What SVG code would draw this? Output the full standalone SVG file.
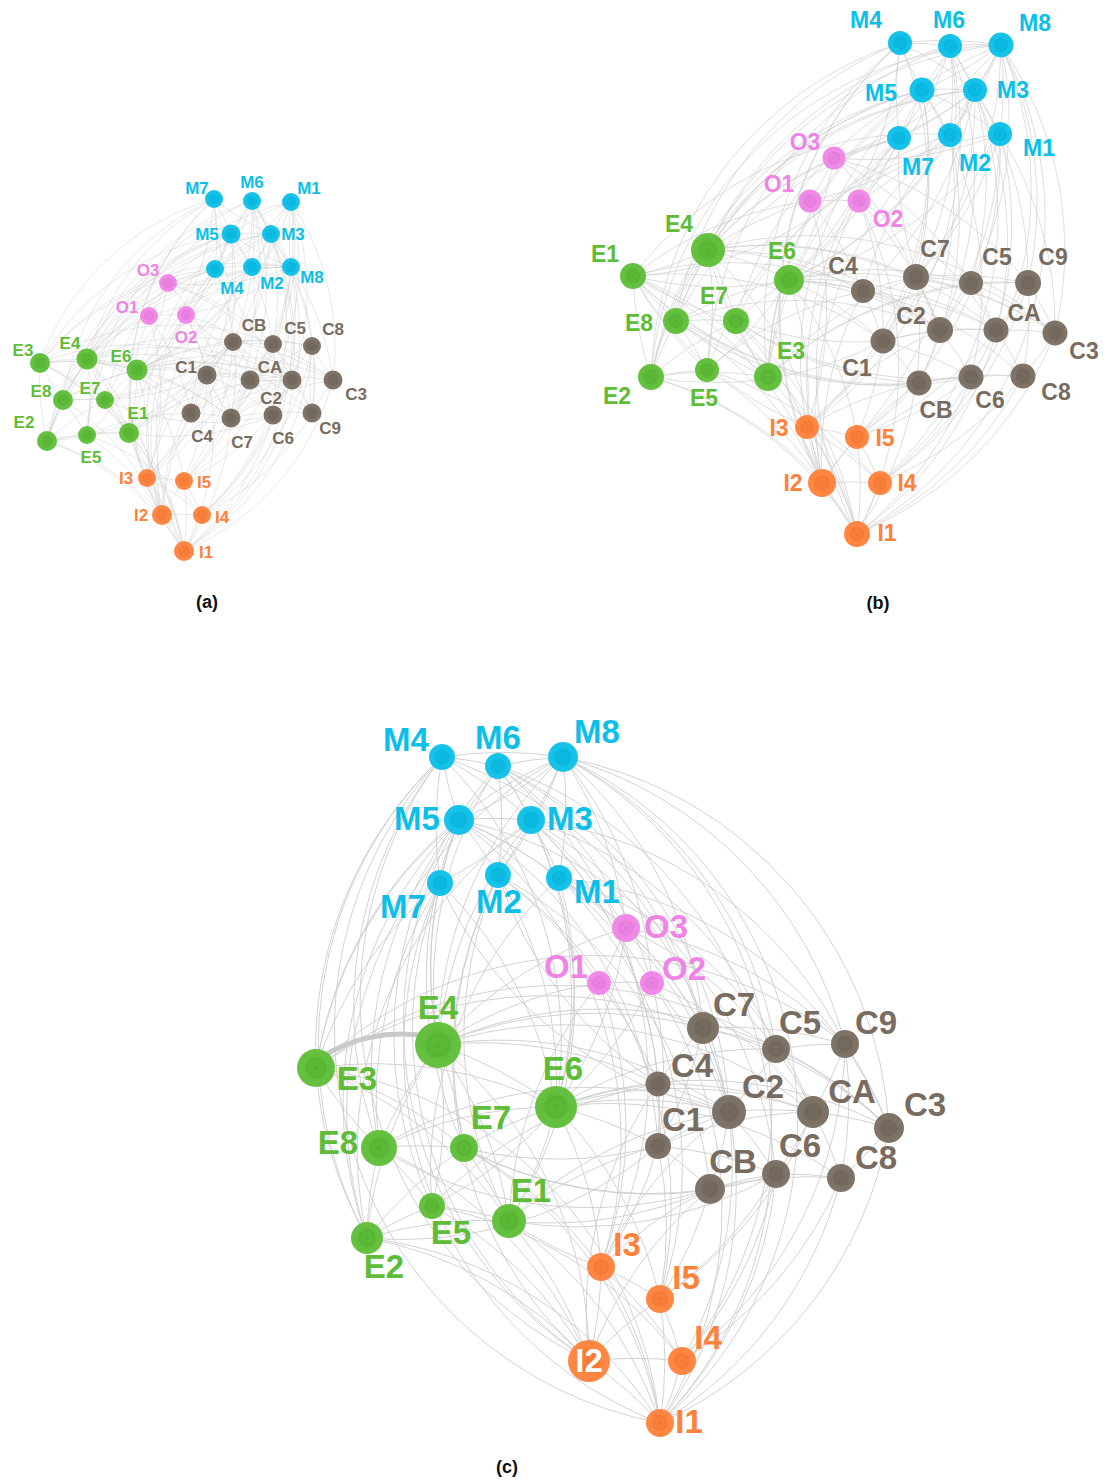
<svg xmlns="http://www.w3.org/2000/svg" width="1115" height="1481" viewBox="0 0 1115 1481">
<defs>
<radialGradient id="sh"><stop offset="0" stop-color="#000" stop-opacity=".08"/><stop offset=".2" stop-color="#000" stop-opacity=".02"/><stop offset=".5" stop-color="#000" stop-opacity=".05"/><stop offset=".62" stop-color="#fff" stop-opacity=".03"/><stop offset="1" stop-color="#fff" stop-opacity=".06"/></radialGradient>
<style>
.m{fill:#0bbfe8}.o{fill:#ef84e6}.e{fill:#5dbd36}.c{fill:#786c60}.i{fill:#ff813a}
.s{fill:url(#sh)}
text{font-family:"Liberation Sans",Arial,sans-serif;font-weight:bold;text-anchor:middle}
.tm{fill:#0bbfe8}.to{fill:#ef84e6}.te{fill:#5dbd36}.tc{fill:#786c60}.ti{fill:#ff813a}
.fa text{font-size:17px}.fb text{font-size:23px}.fc text{font-size:33px}
.cap{font-size:18px;fill:#111}
#connectors path{fill:none;stroke:#cdcdcd;stroke-width:1}
#edges-a path{stroke-opacity:.45}
#edges-b path{stroke-opacity:.65}
#edges-c path{stroke-opacity:.9}
#connectors .thick{stroke:#c8c8c8;stroke-opacity:1;stroke-width:5}
</style>
</defs>
<rect width="1115" height="1481" fill="#fff"/>
<g id="connectors">
<g id="edges-a">
<path d="M215 269A260 260 0 0 1 291 267"/><path d="M215 269A260 260 0 0 1 252 201"/><path d="M252 201A260 260 0 0 1 291 267"/><path d="M231 234A260 260 0 0 1 215 269"/><path d="M215 269A260 260 0 0 1 271 234"/><path d="M252 201A260 260 0 0 1 231 234"/><path d="M252 201A260 260 0 0 1 271 234"/><path d="M291 267A260 260 0 0 1 231 234"/><path d="M291 267A260 260 0 0 1 271 234"/><path d="M231 234A260 260 0 0 1 271 234"/><path d="M214 199A260 260 0 0 1 231 234"/><path d="M231 234A260 260 0 0 1 252 267"/><path d="M271 234A260 260 0 0 1 252 267"/><path d="M271 234A260 260 0 0 1 291 202"/><path d="M291 267A260 260 0 0 1 291 202"/><path d="M252 201A260 260 0 0 1 252 267"/><path d="M214 199A260 260 0 0 1 215 269"/><path d="M291 267A260 260 0 0 1 252 267"/><path d="M231 234A260 260 0 0 1 291 202"/><path d="M271 234A260 260 0 0 1 214 199"/>
<path d="M291 202A260 260 0 0 1 168 283"/><path d="M271 234A260 260 0 0 1 168 283"/><path d="M291 267A260 260 0 0 1 168 283"/><path d="M252 267A260 260 0 0 1 149 316"/><path d="M231 234A260 260 0 0 1 186 315"/><path d="M252 201A260 260 0 0 1 186 315"/><path d="M291 267A260 260 0 0 1 186 315"/>
<path d="M40 363A260 260 0 0 1 215 269"/><path d="M47 441A260 260 0 0 1 215 269"/><path d="M63 400A260 260 0 0 1 215 269"/><path d="M40 363A260 260 0 0 1 231 234"/><path d="M87 359A260 260 0 0 1 231 234"/><path d="M63 400A260 260 0 0 1 231 234"/><path d="M47 441A260 260 0 0 1 231 234"/><path d="M105 400A260 260 0 0 1 231 234"/><path d="M87 359A260 260 0 0 1 252 201"/><path d="M252 201A260 260 0 0 1 129 433"/><path d="M87 435A260 260 0 0 1 252 201"/><path d="M87 359A260 260 0 0 1 214 199"/><path d="M40 363A260 260 0 0 1 214 199"/><path d="M63 400A260 260 0 0 1 214 199"/><path d="M214 199A260 260 0 0 1 137 370"/><path d="M252 267A260 260 0 0 1 137 370"/><path d="M105 400A260 260 0 0 1 252 267"/><path d="M129 433A260 260 0 0 1 252 267"/><path d="M87 359A260 260 0 0 1 271 234"/><path d="M271 234A260 260 0 0 1 137 370"/><path d="M87 359A260 260 0 0 1 291 267"/><path d="M40 363A260 260 0 0 1 291 267"/><path d="M47 441A260 260 0 0 1 291 267"/><path d="M291 202A260 260 0 0 1 137 370"/><path d="M87 435A260 260 0 0 1 291 202"/><path d="M215 269A260 260 0 0 1 137 370"/><path d="M47 441A260 260 0 0 1 271 234"/>
<path d="M291 267A260 260 0 0 1 312 413"/><path d="M291 267A260 260 0 0 1 333 380"/><path d="M291 267A260 260 0 0 1 273 344"/><path d="M291 267A260 260 0 0 1 231 418"/><path d="M291 202A260 260 0 0 1 231 418"/><path d="M291 202A260 260 0 0 1 292 380"/><path d="M291 202A260 260 0 0 1 250 380"/><path d="M271 234A260 260 0 0 1 191 413"/><path d="M271 234A260 260 0 0 1 207 375"/><path d="M271 234A260 260 0 0 1 273 344"/><path d="M252 201A260 260 0 0 1 231 418"/><path d="M252 201A260 260 0 0 1 292 380"/><path d="M191 413A260 260 0 0 1 252 267"/><path d="M252 267A260 260 0 0 1 233 342"/><path d="M231 234A260 260 0 0 1 207 375"/><path d="M231 234A260 260 0 0 1 273 415"/><path d="M215 269A260 260 0 0 1 231 418"/><path d="M292 380A260 260 0 0 1 214 199"/><path d="M291 202A260 260 0 0 1 333 380"/><path d="M271 234A260 260 0 0 1 312 413"/>
<path d="M162 515A260 260 0 0 1 215 269"/><path d="M231 234A260 260 0 0 1 147 478"/><path d="M162 515A260 260 0 0 1 231 234"/><path d="M162 515A260 260 0 0 1 214 199"/><path d="M252 201A260 260 0 0 1 184 551"/><path d="M252 201A260 260 0 0 1 147 478"/><path d="M252 267A260 260 0 0 1 184 481"/><path d="M162 515A260 260 0 0 1 252 267"/><path d="M271 234A260 260 0 0 1 202 515"/><path d="M291 267A260 260 0 0 1 184 551"/><path d="M291 202A260 260 0 0 1 184 481"/><path d="M184 551A260 260 0 0 1 214 199"/><path d="M184 551A260 260 0 0 1 215 269"/><path d="M291 267A260 260 0 0 1 202 515"/>
<path d="M168 283A260 260 0 0 1 231 418"/><path d="M168 283A260 260 0 0 1 273 344"/><path d="M87 359A260 260 0 0 1 168 283"/><path d="M168 283A260 260 0 0 1 137 370"/><path d="M87 359A260 260 0 0 1 149 316"/><path d="M149 316A260 260 0 0 1 191 413"/><path d="M149 316A260 260 0 0 1 147 478"/><path d="M186 315A260 260 0 0 1 292 380"/><path d="M186 315A260 260 0 0 1 207 375"/><path d="M186 315A260 260 0 0 1 250 380"/><path d="M149 316A260 260 0 0 1 186 315"/><path d="M168 283A260 260 0 0 1 149 316"/><path d="M186 315A260 260 0 0 1 184 551"/><path d="M168 283A260 260 0 0 1 312 413"/><path d="M129 433A260 260 0 0 1 149 316"/><path d="M186 315A260 260 0 0 1 137 370"/>
<path d="M40 363A260 260 0 0 1 87 359"/><path d="M63 400A260 260 0 0 1 40 363"/><path d="M47 441A260 260 0 0 1 40 363"/><path d="M87 359A260 260 0 0 1 137 370"/><path d="M87 359A260 260 0 0 1 105 400"/><path d="M63 400A260 260 0 0 1 87 359"/><path d="M87 359A260 260 0 0 1 129 433"/><path d="M87 359A260 260 0 0 1 87 435"/><path d="M47 441A260 260 0 0 1 63 400"/><path d="M63 400A260 260 0 0 1 105 400"/><path d="M63 400A260 260 0 0 1 87 435"/><path d="M105 400A260 260 0 0 1 129 433"/><path d="M105 400A260 260 0 0 1 137 370"/><path d="M137 370A260 260 0 0 1 129 433"/><path d="M87 435A260 260 0 0 1 129 433"/><path d="M47 441A260 260 0 0 1 87 435"/><path d="M47 441A260 260 0 0 1 129 433"/><path d="M40 363A260 260 0 0 1 137 370"/><path d="M40 363A260 260 0 0 1 105 400"/><path d="M47 441A260 260 0 0 1 105 400"/><path d="M137 370A260 260 0 0 1 87 435"/><path d="M47 441A260 260 0 0 1 87 359"/><path d="M40 363A260 260 0 0 1 129 433"/><path d="M63 400A260 260 0 0 1 137 370"/>
<path d="M87 359A260 260 0 0 1 231 418"/><path d="M87 359A260 260 0 0 1 292 380"/><path d="M87 359A260 260 0 0 1 191 413"/><path d="M137 370A260 260 0 0 1 191 413"/><path d="M137 370A260 260 0 0 1 207 375"/><path d="M137 370A260 260 0 0 1 292 380"/><path d="M137 370A260 260 0 0 1 250 380"/><path d="M137 370A260 260 0 0 1 273 344"/><path d="M40 363A260 260 0 0 1 231 418"/><path d="M40 363A260 260 0 0 1 312 413"/><path d="M207 375A260 260 0 0 1 105 400"/><path d="M233 342A260 260 0 0 1 105 400"/><path d="M129 433A260 260 0 0 1 207 375"/><path d="M233 342A260 260 0 0 1 129 433"/><path d="M273 415A260 260 0 0 1 129 433"/><path d="M87 435A260 260 0 0 1 191 413"/><path d="M63 400A260 260 0 0 1 292 380"/><path d="M207 375A260 260 0 0 1 47 441"/><path d="M87 359A260 260 0 0 1 250 380"/><path d="M137 370A260 260 0 0 1 312 346"/><path d="M273 415A260 260 0 0 1 105 400"/><path d="M129 433A260 260 0 0 1 292 380"/><path d="M87 359A260 260 0 0 1 333 380"/><path d="M40 363A260 260 0 0 1 273 344"/><path d="M233 342A260 260 0 0 1 63 400"/><path d="M137 370A260 260 0 0 1 333 380"/>
<path d="M147 478A260 260 0 0 1 129 433"/><path d="M129 433A260 260 0 0 1 162 515"/><path d="M87 435A260 260 0 0 1 162 515"/><path d="M47 441A260 260 0 0 1 162 515"/><path d="M47 441A260 260 0 0 1 184 551"/><path d="M63 400A260 260 0 0 1 162 515"/><path d="M105 400A260 260 0 0 1 147 478"/><path d="M137 370A260 260 0 0 1 147 478"/><path d="M137 370A260 260 0 0 1 184 481"/><path d="M87 359A260 260 0 0 1 162 515"/><path d="M40 363A260 260 0 0 1 184 551"/><path d="M129 433A260 260 0 0 1 184 551"/><path d="M87 435A260 260 0 0 1 202 515"/><path d="M105 400A260 260 0 0 1 184 551"/>
<path d="M231 418A260 260 0 0 1 273 344"/><path d="M231 418A260 260 0 0 1 312 413"/><path d="M273 344A260 260 0 0 1 312 413"/><path d="M191 413A260 260 0 0 1 231 418"/><path d="M231 418A260 260 0 0 1 292 380"/><path d="M191 413A260 260 0 0 1 292 380"/><path d="M191 413A260 260 0 0 1 207 375"/><path d="M292 380A260 260 0 0 1 250 380"/><path d="M207 375A260 260 0 0 1 292 380"/><path d="M250 380A260 260 0 0 1 333 380"/><path d="M312 413A260 260 0 0 1 333 380"/><path d="M312 413A260 260 0 0 1 250 380"/><path d="M273 344A260 260 0 0 1 250 380"/><path d="M273 344A260 260 0 0 1 292 380"/><path d="M207 375A260 260 0 0 1 233 342"/><path d="M207 375A260 260 0 0 1 273 415"/><path d="M233 342A260 260 0 0 1 273 415"/><path d="M273 415A260 260 0 0 1 312 346"/><path d="M333 380A260 260 0 0 1 312 346"/><path d="M250 380A260 260 0 0 1 273 415"/><path d="M250 380A260 260 0 0 1 312 346"/><path d="M292 380A260 260 0 0 1 273 415"/><path d="M292 380A260 260 0 0 1 233 342"/><path d="M191 413A260 260 0 0 1 250 380"/><path d="M231 418A260 260 0 0 1 333 380"/><path d="M273 344A260 260 0 0 1 333 380"/><path d="M207 375A260 260 0 0 1 250 380"/><path d="M233 342A260 260 0 0 1 312 346"/><path d="M312 413A260 260 0 0 1 312 346"/><path d="M231 418A260 260 0 0 1 207 375"/>
<path d="M207 375A260 260 0 0 1 147 478"/><path d="M207 375A260 260 0 0 1 184 481"/><path d="M233 342A260 260 0 0 1 184 481"/><path d="M147 478A260 260 0 0 1 233 342"/><path d="M273 415A260 260 0 0 1 184 481"/><path d="M273 415A260 260 0 0 1 202 515"/><path d="M312 346A260 260 0 0 1 202 515"/><path d="M312 346A260 260 0 0 1 184 551"/><path d="M333 380A260 260 0 0 1 184 551"/><path d="M250 380A260 260 0 0 1 184 481"/><path d="M147 478A260 260 0 0 1 292 380"/><path d="M162 515A260 260 0 0 1 191 413"/><path d="M162 515A260 260 0 0 1 233 342"/><path d="M312 413A260 260 0 0 1 202 515"/><path d="M231 418A260 260 0 0 1 184 551"/><path d="M273 415A260 260 0 0 1 184 551"/>
<path d="M147 478A260 260 0 0 1 162 515"/><path d="M147 478A260 260 0 0 1 184 481"/><path d="M147 478A260 260 0 0 1 184 551"/><path d="M184 481A260 260 0 0 1 202 515"/><path d="M184 481A260 260 0 0 1 184 551"/><path d="M162 515A260 260 0 0 1 202 515"/><path d="M162 515A260 260 0 0 1 184 551"/><path d="M202 515A260 260 0 0 1 184 551"/><path d="M147 478A260 260 0 0 1 202 515"/><path d="M162 515A260 260 0 0 1 184 481"/>
</g>
<g id="edges-b">
<path d="M900 43A360 360 0 0 1 1001 45"/><path d="M900 43A360 360 0 0 1 950 46"/><path d="M950 46A360 360 0 0 1 1001 45"/><path d="M922 90A360 360 0 0 1 900 43"/><path d="M900 43A360 360 0 0 1 975 90"/><path d="M950 46A360 360 0 0 1 922 90"/><path d="M950 46A360 360 0 0 1 975 90"/><path d="M1001 45A360 360 0 0 1 922 90"/><path d="M1001 45A360 360 0 0 1 975 90"/><path d="M922 90A360 360 0 0 1 975 90"/><path d="M899 138A360 360 0 0 1 922 90"/><path d="M922 90A360 360 0 0 1 950 135"/><path d="M975 90A360 360 0 0 1 950 135"/><path d="M975 90A360 360 0 0 1 1000 134"/><path d="M1001 45A360 360 0 0 1 1000 134"/><path d="M950 46A360 360 0 0 1 950 135"/><path d="M899 138A360 360 0 0 1 900 43"/><path d="M1001 45A360 360 0 0 1 950 135"/><path d="M922 90A360 360 0 0 1 1000 134"/><path d="M975 90A360 360 0 0 1 899 138"/>
<path d="M1000 134A360 360 0 0 1 834 158"/><path d="M975 90A360 360 0 0 1 834 158"/><path d="M1001 45A360 360 0 0 1 834 158"/><path d="M950 135A360 360 0 0 1 810 201"/><path d="M922 90A360 360 0 0 1 859 201"/><path d="M950 46A360 360 0 0 1 859 201"/><path d="M1001 45A360 360 0 0 1 859 201"/>
<path d="M768 377A360 360 0 0 1 900 43"/><path d="M651 377A360 360 0 0 1 900 43"/><path d="M676 321A360 360 0 0 1 900 43"/><path d="M768 377A360 360 0 0 1 922 90"/><path d="M708 250A360 360 0 0 1 922 90"/><path d="M676 321A360 360 0 0 1 922 90"/><path d="M651 377A360 360 0 0 1 922 90"/><path d="M736 321A360 360 0 0 1 922 90"/><path d="M708 250A360 360 0 0 1 950 46"/><path d="M950 46A360 360 0 0 1 633 276"/><path d="M707 370A360 360 0 0 1 950 46"/><path d="M708 250A360 360 0 0 1 899 138"/><path d="M768 377A360 360 0 0 1 899 138"/><path d="M676 321A360 360 0 0 1 899 138"/><path d="M899 138A360 360 0 0 1 789 280"/><path d="M950 135A360 360 0 0 1 789 280"/><path d="M736 321A360 360 0 0 1 950 135"/><path d="M633 276A360 360 0 0 1 950 135"/><path d="M708 250A360 360 0 0 1 975 90"/><path d="M975 90A360 360 0 0 1 789 280"/><path d="M708 250A360 360 0 0 1 1001 45"/><path d="M768 377A360 360 0 0 1 1001 45"/><path d="M651 377A360 360 0 0 1 1001 45"/><path d="M1000 134A360 360 0 0 1 789 280"/><path d="M707 370A360 360 0 0 1 1000 134"/><path d="M900 43A360 360 0 0 1 789 280"/><path d="M651 377A360 360 0 0 1 975 90"/>
<path d="M1001 45A360 360 0 0 1 1028 283"/><path d="M1001 45A360 360 0 0 1 1055 333"/><path d="M1001 45A360 360 0 0 1 971 283"/><path d="M1001 45A360 360 0 0 1 916 277"/><path d="M1000 134A360 360 0 0 1 916 277"/><path d="M1000 134A360 360 0 0 1 940 330"/><path d="M1000 134A360 360 0 0 1 996 330"/><path d="M975 90A360 360 0 0 1 863 291"/><path d="M975 90A360 360 0 0 1 883 341"/><path d="M975 90A360 360 0 0 1 971 283"/><path d="M950 46A360 360 0 0 1 916 277"/><path d="M950 46A360 360 0 0 1 940 330"/><path d="M863 291A360 360 0 0 1 950 135"/><path d="M950 135A360 360 0 0 1 919 383"/><path d="M922 90A360 360 0 0 1 883 341"/><path d="M922 90A360 360 0 0 1 971 377"/><path d="M900 43A360 360 0 0 1 916 277"/><path d="M940 330A360 360 0 0 1 899 138"/><path d="M1000 134A360 360 0 0 1 1055 333"/><path d="M975 90A360 360 0 0 1 1028 283"/>
<path d="M822 483A360 360 0 0 1 900 43"/><path d="M922 90A360 360 0 0 1 807 427"/><path d="M822 483A360 360 0 0 1 922 90"/><path d="M822 483A360 360 0 0 1 899 138"/><path d="M950 46A360 360 0 0 1 857 534"/><path d="M950 46A360 360 0 0 1 807 427"/><path d="M950 135A360 360 0 0 1 857 437"/><path d="M822 483A360 360 0 0 1 950 135"/><path d="M975 90A360 360 0 0 1 880 483"/><path d="M1001 45A360 360 0 0 1 857 534"/><path d="M1000 134A360 360 0 0 1 857 437"/><path d="M857 534A360 360 0 0 1 899 138"/><path d="M857 534A360 360 0 0 1 900 43"/><path d="M1001 45A360 360 0 0 1 880 483"/>
<path d="M834 158A360 360 0 0 1 916 277"/><path d="M834 158A360 360 0 0 1 971 283"/><path d="M708 250A360 360 0 0 1 834 158"/><path d="M834 158A360 360 0 0 1 789 280"/><path d="M708 250A360 360 0 0 1 810 201"/><path d="M810 201A360 360 0 0 1 863 291"/><path d="M810 201A360 360 0 0 1 807 427"/><path d="M859 201A360 360 0 0 1 940 330"/><path d="M859 201A360 360 0 0 1 883 341"/><path d="M859 201A360 360 0 0 1 996 330"/><path d="M810 201A360 360 0 0 1 859 201"/><path d="M834 158A360 360 0 0 1 810 201"/><path d="M859 201A360 360 0 0 1 857 534"/><path d="M834 158A360 360 0 0 1 1028 283"/><path d="M633 276A360 360 0 0 1 810 201"/><path d="M859 201A360 360 0 0 1 789 280"/>
<path d="M768 377A360 360 0 0 1 708 250"/><path d="M676 321A360 360 0 0 1 768 377"/><path d="M651 377A360 360 0 0 1 768 377"/><path d="M708 250A360 360 0 0 1 789 280"/><path d="M708 250A360 360 0 0 1 736 321"/><path d="M676 321A360 360 0 0 1 708 250"/><path d="M708 250A360 360 0 0 1 633 276"/><path d="M708 250A360 360 0 0 1 707 370"/><path d="M651 377A360 360 0 0 1 676 321"/><path d="M676 321A360 360 0 0 1 736 321"/><path d="M676 321A360 360 0 0 1 707 370"/><path d="M736 321A360 360 0 0 1 633 276"/><path d="M736 321A360 360 0 0 1 789 280"/><path d="M789 280A360 360 0 0 1 633 276"/><path d="M707 370A360 360 0 0 1 633 276"/><path d="M651 377A360 360 0 0 1 707 370"/><path d="M651 377A360 360 0 0 1 633 276"/><path d="M768 377A360 360 0 0 1 789 280"/><path d="M768 377A360 360 0 0 1 736 321"/><path d="M651 377A360 360 0 0 1 736 321"/><path d="M789 280A360 360 0 0 1 707 370"/><path d="M651 377A360 360 0 0 1 708 250"/><path d="M768 377A360 360 0 0 1 633 276"/><path d="M676 321A360 360 0 0 1 789 280"/>
<path d="M708 250A360 360 0 0 1 916 277"/><path d="M708 250A360 360 0 0 1 940 330"/><path d="M708 250A360 360 0 0 1 863 291"/><path d="M789 280A360 360 0 0 1 863 291"/><path d="M789 280A360 360 0 0 1 883 341"/><path d="M789 280A360 360 0 0 1 940 330"/><path d="M789 280A360 360 0 0 1 996 330"/><path d="M789 280A360 360 0 0 1 971 283"/><path d="M768 377A360 360 0 0 1 916 277"/><path d="M768 377A360 360 0 0 1 1028 283"/><path d="M883 341A360 360 0 0 1 736 321"/><path d="M919 383A360 360 0 0 1 736 321"/><path d="M633 276A360 360 0 0 1 883 341"/><path d="M919 383A360 360 0 0 1 633 276"/><path d="M971 377A360 360 0 0 1 633 276"/><path d="M707 370A360 360 0 0 1 863 291"/><path d="M676 321A360 360 0 0 1 940 330"/><path d="M883 341A360 360 0 0 1 651 377"/><path d="M708 250A360 360 0 0 1 996 330"/><path d="M789 280A360 360 0 0 1 1023 376"/><path d="M971 377A360 360 0 0 1 736 321"/><path d="M633 276A360 360 0 0 1 940 330"/><path d="M708 250A360 360 0 0 1 1055 333"/><path d="M768 377A360 360 0 0 1 971 283"/><path d="M919 383A360 360 0 0 1 676 321"/><path d="M789 280A360 360 0 0 1 1055 333"/>
<path d="M807 427A360 360 0 0 1 633 276"/><path d="M633 276A360 360 0 0 1 822 483"/><path d="M707 370A360 360 0 0 1 822 483"/><path d="M651 377A360 360 0 0 1 822 483"/><path d="M651 377A360 360 0 0 1 857 534"/><path d="M676 321A360 360 0 0 1 822 483"/><path d="M736 321A360 360 0 0 1 807 427"/><path d="M789 280A360 360 0 0 1 807 427"/><path d="M789 280A360 360 0 0 1 857 437"/><path d="M708 250A360 360 0 0 1 822 483"/><path d="M768 377A360 360 0 0 1 857 534"/><path d="M633 276A360 360 0 0 1 857 534"/><path d="M707 370A360 360 0 0 1 880 483"/><path d="M736 321A360 360 0 0 1 857 534"/>
<path d="M916 277A360 360 0 0 1 971 283"/><path d="M916 277A360 360 0 0 1 1028 283"/><path d="M971 283A360 360 0 0 1 1028 283"/><path d="M863 291A360 360 0 0 1 916 277"/><path d="M916 277A360 360 0 0 1 940 330"/><path d="M863 291A360 360 0 0 1 940 330"/><path d="M863 291A360 360 0 0 1 883 341"/><path d="M940 330A360 360 0 0 1 996 330"/><path d="M883 341A360 360 0 0 1 940 330"/><path d="M996 330A360 360 0 0 1 1055 333"/><path d="M1028 283A360 360 0 0 1 1055 333"/><path d="M1028 283A360 360 0 0 1 996 330"/><path d="M971 283A360 360 0 0 1 996 330"/><path d="M971 283A360 360 0 0 1 940 330"/><path d="M883 341A360 360 0 0 1 919 383"/><path d="M883 341A360 360 0 0 1 971 377"/><path d="M919 383A360 360 0 0 1 971 377"/><path d="M971 377A360 360 0 0 1 1023 376"/><path d="M1055 333A360 360 0 0 1 1023 376"/><path d="M996 330A360 360 0 0 1 971 377"/><path d="M996 330A360 360 0 0 1 1023 376"/><path d="M940 330A360 360 0 0 1 971 377"/><path d="M940 330A360 360 0 0 1 919 383"/><path d="M863 291A360 360 0 0 1 996 330"/><path d="M916 277A360 360 0 0 1 1055 333"/><path d="M971 283A360 360 0 0 1 1055 333"/><path d="M883 341A360 360 0 0 1 996 330"/><path d="M919 383A360 360 0 0 1 1023 376"/><path d="M1028 283A360 360 0 0 1 1023 376"/><path d="M916 277A360 360 0 0 1 883 341"/>
<path d="M883 341A360 360 0 0 1 807 427"/><path d="M883 341A360 360 0 0 1 857 437"/><path d="M919 383A360 360 0 0 1 857 437"/><path d="M807 427A360 360 0 0 1 919 383"/><path d="M971 377A360 360 0 0 1 857 437"/><path d="M971 377A360 360 0 0 1 880 483"/><path d="M1023 376A360 360 0 0 1 880 483"/><path d="M1023 376A360 360 0 0 1 857 534"/><path d="M1055 333A360 360 0 0 1 857 534"/><path d="M996 330A360 360 0 0 1 857 437"/><path d="M807 427A360 360 0 0 1 940 330"/><path d="M822 483A360 360 0 0 1 863 291"/><path d="M822 483A360 360 0 0 1 919 383"/><path d="M1028 283A360 360 0 0 1 880 483"/><path d="M916 277A360 360 0 0 1 857 534"/><path d="M971 377A360 360 0 0 1 857 534"/>
<path d="M807 427A360 360 0 0 1 822 483"/><path d="M807 427A360 360 0 0 1 857 437"/><path d="M807 427A360 360 0 0 1 857 534"/><path d="M857 437A360 360 0 0 1 880 483"/><path d="M857 437A360 360 0 0 1 857 534"/><path d="M822 483A360 360 0 0 1 880 483"/><path d="M822 483A360 360 0 0 1 857 534"/><path d="M880 483A360 360 0 0 1 857 534"/><path d="M807 427A360 360 0 0 1 880 483"/><path d="M822 483A360 360 0 0 1 857 437"/>
</g>
<g id="edges-c">
<path d="M442 757A400 400 0 0 1 563 757"/><path d="M442 757A400 400 0 0 1 498 766"/><path d="M498 766A400 400 0 0 1 563 757"/><path d="M459 820A400 400 0 0 1 442 757"/><path d="M442 757A400 400 0 0 1 531 820"/><path d="M498 766A400 400 0 0 1 459 820"/><path d="M498 766A400 400 0 0 1 531 820"/><path d="M563 757A400 400 0 0 1 459 820"/><path d="M563 757A400 400 0 0 1 531 820"/><path d="M459 820A400 400 0 0 1 531 820"/><path d="M440 883A400 400 0 0 1 459 820"/><path d="M459 820A400 400 0 0 1 498 875"/><path d="M531 820A400 400 0 0 1 498 875"/><path d="M531 820A400 400 0 0 1 559 878"/><path d="M563 757A400 400 0 0 1 559 878"/><path d="M498 766A400 400 0 0 1 498 875"/><path d="M440 883A400 400 0 0 1 442 757"/><path d="M563 757A400 400 0 0 1 498 875"/><path d="M459 820A400 400 0 0 1 559 878"/><path d="M531 820A400 400 0 0 1 440 883"/>
<path d="M559 878A400 400 0 0 1 626 928"/><path d="M531 820A400 400 0 0 1 626 928"/><path d="M563 757A400 400 0 0 1 626 928"/><path d="M498 875A400 400 0 0 1 599 983"/><path d="M459 820A400 400 0 0 1 652 983"/><path d="M498 766A400 400 0 0 1 652 983"/><path d="M563 757A400 400 0 0 1 652 983"/>
<path d="M316 1068A400 400 0 0 1 442 757"/><path d="M367 1238A400 400 0 0 1 442 757"/><path d="M379 1148A400 400 0 0 1 442 757"/><path d="M316 1068A400 400 0 0 1 459 820"/><path d="M438 1045A400 400 0 0 1 459 820"/><path d="M379 1148A400 400 0 0 1 459 820"/><path d="M367 1238A400 400 0 0 1 459 820"/><path d="M464 1148A400 400 0 0 1 459 820"/><path d="M438 1045A400 400 0 0 1 498 766"/><path d="M498 766A400 400 0 0 1 509 1221"/><path d="M432 1206A400 400 0 0 1 498 766"/><path d="M438 1045A400 400 0 0 1 440 883"/><path d="M316 1068A400 400 0 0 1 440 883"/><path d="M379 1148A400 400 0 0 1 440 883"/><path d="M440 883A400 400 0 0 1 556 1107"/><path d="M498 875A400 400 0 0 1 556 1107"/><path d="M464 1148A400 400 0 0 1 498 875"/><path d="M509 1221A400 400 0 0 1 498 875"/><path d="M438 1045A400 400 0 0 1 531 820"/><path d="M531 820A400 400 0 0 1 556 1107"/><path d="M438 1045A400 400 0 0 1 563 757"/><path d="M316 1068A400 400 0 0 1 563 757"/><path d="M367 1238A400 400 0 0 1 563 757"/><path d="M559 878A400 400 0 0 1 556 1107"/><path d="M432 1206A400 400 0 0 1 559 878"/><path d="M442 757A400 400 0 0 1 556 1107"/><path d="M367 1238A400 400 0 0 1 531 820"/>
<path d="M563 757A400 400 0 0 1 845 1044"/><path d="M563 757A400 400 0 0 1 889 1128"/><path d="M563 757A400 400 0 0 1 776 1049"/><path d="M563 757A400 400 0 0 1 703 1028"/><path d="M559 878A400 400 0 0 1 703 1028"/><path d="M559 878A400 400 0 0 1 729 1112"/><path d="M559 878A400 400 0 0 1 813 1112"/><path d="M531 820A400 400 0 0 1 658 1084"/><path d="M531 820A400 400 0 0 1 658 1146"/><path d="M531 820A400 400 0 0 1 776 1049"/><path d="M498 766A400 400 0 0 1 703 1028"/><path d="M498 766A400 400 0 0 1 729 1112"/><path d="M658 1084A400 400 0 0 1 498 875"/><path d="M498 875A400 400 0 0 1 710 1189"/><path d="M459 820A400 400 0 0 1 658 1146"/><path d="M459 820A400 400 0 0 1 776 1174"/><path d="M442 757A400 400 0 0 1 703 1028"/><path d="M729 1112A400 400 0 0 1 440 883"/><path d="M559 878A400 400 0 0 1 889 1128"/><path d="M531 820A400 400 0 0 1 845 1044"/>
<path d="M589 1361A400 400 0 0 1 442 757"/><path d="M459 820A400 400 0 0 1 601 1267"/><path d="M589 1361A400 400 0 0 1 459 820"/><path d="M589 1361A400 400 0 0 1 440 883"/><path d="M498 766A400 400 0 0 1 660 1423"/><path d="M498 766A400 400 0 0 1 601 1267"/><path d="M498 875A400 400 0 0 1 660 1299"/><path d="M589 1361A400 400 0 0 1 498 875"/><path d="M531 820A400 400 0 0 1 682 1361"/><path d="M563 757A400 400 0 0 1 660 1423"/><path d="M559 878A400 400 0 0 1 660 1299"/><path d="M660 1423A400 400 0 0 1 440 883"/><path d="M660 1423A400 400 0 0 1 442 757"/><path d="M563 757A400 400 0 0 1 682 1361"/>
<path d="M626 928A400 400 0 0 1 703 1028"/><path d="M626 928A400 400 0 0 1 776 1049"/><path d="M438 1045A400 400 0 0 1 626 928"/><path d="M626 928A400 400 0 0 1 556 1107"/><path d="M438 1045A400 400 0 0 1 599 983"/><path d="M599 983A400 400 0 0 1 658 1084"/><path d="M599 983A400 400 0 0 1 601 1267"/><path d="M652 983A400 400 0 0 1 729 1112"/><path d="M652 983A400 400 0 0 1 658 1146"/><path d="M652 983A400 400 0 0 1 813 1112"/><path d="M599 983A400 400 0 0 1 652 983"/><path d="M626 928A400 400 0 0 1 599 983"/><path d="M652 983A400 400 0 0 1 660 1423"/><path d="M626 928A400 400 0 0 1 845 1044"/><path d="M509 1221A400 400 0 0 1 599 983"/><path d="M652 983A400 400 0 0 1 556 1107"/>
<path class="thick" d="M320 1058A150 150 0 0 1 426 1036"/><path d="M379 1148A400 400 0 0 1 316 1068"/><path d="M367 1238A400 400 0 0 1 316 1068"/><path d="M438 1045A400 400 0 0 1 556 1107"/><path d="M438 1045A400 400 0 0 1 464 1148"/><path d="M379 1148A400 400 0 0 1 438 1045"/><path d="M438 1045A400 400 0 0 1 509 1221"/><path d="M438 1045A400 400 0 0 1 432 1206"/><path d="M367 1238A400 400 0 0 1 379 1148"/><path d="M379 1148A400 400 0 0 1 464 1148"/><path d="M379 1148A400 400 0 0 1 432 1206"/><path d="M464 1148A400 400 0 0 1 509 1221"/><path d="M464 1148A400 400 0 0 1 556 1107"/><path d="M556 1107A400 400 0 0 1 509 1221"/><path d="M432 1206A400 400 0 0 1 509 1221"/><path d="M367 1238A400 400 0 0 1 432 1206"/><path d="M367 1238A400 400 0 0 1 509 1221"/><path d="M316 1068A400 400 0 0 1 556 1107"/><path d="M316 1068A400 400 0 0 1 464 1148"/><path d="M367 1238A400 400 0 0 1 464 1148"/><path d="M556 1107A400 400 0 0 1 432 1206"/><path d="M367 1238A400 400 0 0 1 438 1045"/><path d="M316 1068A400 400 0 0 1 509 1221"/><path d="M379 1148A400 400 0 0 1 556 1107"/>
<path d="M438 1045A400 400 0 0 1 703 1028"/><path d="M438 1045A400 400 0 0 1 729 1112"/><path d="M438 1045A400 400 0 0 1 658 1084"/><path d="M556 1107A400 400 0 0 1 658 1084"/><path d="M556 1107A400 400 0 0 1 658 1146"/><path d="M556 1107A400 400 0 0 1 729 1112"/><path d="M556 1107A400 400 0 0 1 813 1112"/><path d="M556 1107A400 400 0 0 1 776 1049"/><path d="M316 1068A400 400 0 0 1 703 1028"/><path d="M316 1068A400 400 0 0 1 845 1044"/><path d="M658 1146A400 400 0 0 1 464 1148"/><path d="M710 1189A400 400 0 0 1 464 1148"/><path d="M509 1221A400 400 0 0 1 658 1146"/><path d="M710 1189A400 400 0 0 1 509 1221"/><path d="M776 1174A400 400 0 0 1 509 1221"/><path d="M432 1206A400 400 0 0 1 658 1084"/><path d="M379 1148A400 400 0 0 1 729 1112"/><path d="M658 1146A400 400 0 0 1 367 1238"/><path d="M438 1045A400 400 0 0 1 813 1112"/><path d="M556 1107A400 400 0 0 1 841 1178"/><path d="M776 1174A400 400 0 0 1 464 1148"/><path d="M509 1221A400 400 0 0 1 729 1112"/><path d="M438 1045A400 400 0 0 1 889 1128"/><path d="M316 1068A400 400 0 0 1 776 1049"/><path d="M710 1189A400 400 0 0 1 379 1148"/><path d="M556 1107A400 400 0 0 1 889 1128"/>
<path d="M601 1267A400 400 0 0 1 509 1221"/><path d="M509 1221A400 400 0 0 1 589 1361"/><path d="M432 1206A400 400 0 0 1 589 1361"/><path d="M367 1238A400 400 0 0 1 589 1361"/><path d="M367 1238A400 400 0 0 1 660 1423"/><path d="M379 1148A400 400 0 0 1 589 1361"/><path d="M464 1148A400 400 0 0 1 601 1267"/><path d="M556 1107A400 400 0 0 1 601 1267"/><path d="M556 1107A400 400 0 0 1 660 1299"/><path d="M438 1045A400 400 0 0 1 589 1361"/><path d="M316 1068A400 400 0 0 1 660 1423"/><path d="M509 1221A400 400 0 0 1 660 1423"/><path d="M432 1206A400 400 0 0 1 682 1361"/><path d="M464 1148A400 400 0 0 1 660 1423"/>
<path d="M703 1028A400 400 0 0 1 776 1049"/><path d="M703 1028A400 400 0 0 1 845 1044"/><path d="M776 1049A400 400 0 0 1 845 1044"/><path d="M658 1084A400 400 0 0 1 703 1028"/><path d="M703 1028A400 400 0 0 1 729 1112"/><path d="M658 1084A400 400 0 0 1 729 1112"/><path d="M658 1084A400 400 0 0 1 658 1146"/><path d="M729 1112A400 400 0 0 1 813 1112"/><path d="M658 1146A400 400 0 0 1 729 1112"/><path d="M813 1112A400 400 0 0 1 889 1128"/><path d="M845 1044A400 400 0 0 1 889 1128"/><path d="M845 1044A400 400 0 0 1 813 1112"/><path d="M776 1049A400 400 0 0 1 813 1112"/><path d="M776 1049A400 400 0 0 1 729 1112"/><path d="M658 1146A400 400 0 0 1 710 1189"/><path d="M658 1146A400 400 0 0 1 776 1174"/><path d="M710 1189A400 400 0 0 1 776 1174"/><path d="M776 1174A400 400 0 0 1 841 1178"/><path d="M889 1128A400 400 0 0 1 841 1178"/><path d="M813 1112A400 400 0 0 1 776 1174"/><path d="M813 1112A400 400 0 0 1 841 1178"/><path d="M729 1112A400 400 0 0 1 776 1174"/><path d="M729 1112A400 400 0 0 1 710 1189"/><path d="M658 1084A400 400 0 0 1 813 1112"/><path d="M703 1028A400 400 0 0 1 889 1128"/><path d="M776 1049A400 400 0 0 1 889 1128"/><path d="M658 1146A400 400 0 0 1 813 1112"/><path d="M710 1189A400 400 0 0 1 841 1178"/><path d="M845 1044A400 400 0 0 1 841 1178"/><path d="M703 1028A400 400 0 0 1 658 1146"/>
<path d="M658 1146A400 400 0 0 1 601 1267"/><path d="M658 1146A400 400 0 0 1 660 1299"/><path d="M710 1189A400 400 0 0 1 660 1299"/><path d="M601 1267A400 400 0 0 1 710 1189"/><path d="M776 1174A400 400 0 0 1 660 1299"/><path d="M776 1174A400 400 0 0 1 682 1361"/><path d="M841 1178A400 400 0 0 1 682 1361"/><path d="M841 1178A400 400 0 0 1 660 1423"/><path d="M889 1128A400 400 0 0 1 660 1423"/><path d="M813 1112A400 400 0 0 1 660 1299"/><path d="M601 1267A400 400 0 0 1 729 1112"/><path d="M589 1361A400 400 0 0 1 658 1084"/><path d="M589 1361A400 400 0 0 1 710 1189"/><path d="M845 1044A400 400 0 0 1 682 1361"/><path d="M703 1028A400 400 0 0 1 660 1423"/><path d="M776 1174A400 400 0 0 1 660 1423"/>
<path d="M601 1267A400 400 0 0 1 589 1361"/><path d="M601 1267A400 400 0 0 1 660 1299"/><path d="M601 1267A400 400 0 0 1 660 1423"/><path d="M660 1299A400 400 0 0 1 682 1361"/><path d="M660 1299A400 400 0 0 1 660 1423"/><path d="M589 1361A400 400 0 0 1 682 1361"/><path d="M589 1361A400 400 0 0 1 660 1423"/><path d="M682 1361A400 400 0 0 1 660 1423"/><path d="M601 1267A400 400 0 0 1 682 1361"/><path d="M589 1361A400 400 0 0 1 660 1299"/>
</g>
</g>
<g id="panel-a" class="fa">
<g id="a-M7"><circle cx="214" cy="199" r="9" class="m"/><circle cx="214" cy="199" r="9" class="s"/><text x="197" y="194" class="tm">M7</text></g>
<g id="a-M6"><circle cx="252" cy="201" r="9" class="m"/><circle cx="252" cy="201" r="9" class="s"/><text x="252" y="188" class="tm">M6</text></g>
<g id="a-M1"><circle cx="291" cy="202" r="9" class="m"/><circle cx="291" cy="202" r="9" class="s"/><text x="309" y="194" class="tm">M1</text></g>
<g id="a-M5"><circle cx="231" cy="234" r="9.5" class="m"/><circle cx="231" cy="234" r="9.5" class="s"/><text x="207" y="240" class="tm">M5</text></g>
<g id="a-M3"><circle cx="271" cy="234" r="9" class="m"/><circle cx="271" cy="234" r="9" class="s"/><text x="293" y="240" class="tm">M3</text></g>
<g id="a-M4"><circle cx="215" cy="269" r="9" class="m"/><circle cx="215" cy="269" r="9" class="s"/><text x="232" y="294" class="tm">M4</text></g>
<g id="a-M2"><circle cx="252" cy="267" r="9" class="m"/><circle cx="252" cy="267" r="9" class="s"/><text x="272" y="289" class="tm">M2</text></g>
<g id="a-M8"><circle cx="291" cy="267" r="9" class="m"/><circle cx="291" cy="267" r="9" class="s"/><text x="312" y="283" class="tm">M8</text></g>
<g id="a-O3"><circle cx="168" cy="283" r="9" class="o"/><circle cx="168" cy="283" r="9" class="s"/><text x="148" y="276" class="to">O3</text></g>
<g id="a-O1"><circle cx="149" cy="316" r="9" class="o"/><circle cx="149" cy="316" r="9" class="s"/><text x="127" y="313" class="to">O1</text></g>
<g id="a-O2"><circle cx="186" cy="315" r="9" class="o"/><circle cx="186" cy="315" r="9" class="s"/><text x="186" y="343" class="to">O2</text></g>
<g id="a-CB"><circle cx="233" cy="342" r="9" class="c"/><circle cx="233" cy="342" r="9" class="s"/><text x="254" y="331" class="tc">CB</text></g>
<g id="a-C5"><circle cx="273" cy="344" r="9" class="c"/><circle cx="273" cy="344" r="9" class="s"/><text x="295" y="334" class="tc">C5</text></g>
<g id="a-C8"><circle cx="312" cy="346" r="9" class="c"/><circle cx="312" cy="346" r="9" class="s"/><text x="333" y="335" class="tc">C8</text></g>
<g id="a-E3"><circle cx="40" cy="363" r="10" class="e"/><circle cx="40" cy="363" r="10" class="s"/><text x="23" y="356" class="te">E3</text></g>
<g id="a-E4"><circle cx="87" cy="359" r="10.5" class="e"/><circle cx="87" cy="359" r="10.5" class="s"/><text x="70" y="349" class="te">E4</text></g>
<g id="a-E6"><circle cx="137" cy="370" r="10.5" class="e"/><circle cx="137" cy="370" r="10.5" class="s"/><text x="121" y="362" class="te">E6</text></g>
<g id="a-C1"><circle cx="207" cy="375" r="9.5" class="c"/><circle cx="207" cy="375" r="9.5" class="s"/><text x="186" y="373" class="tc">C1</text></g>
<g id="a-CA"><circle cx="250" cy="380" r="9.5" class="c"/><circle cx="250" cy="380" r="9.5" class="s"/><text x="270" y="373" class="tc">CA</text></g>
<g id="a-C2"><circle cx="292" cy="380" r="9.5" class="c"/><circle cx="292" cy="380" r="9.5" class="s"/><text x="271" y="404" class="tc">C2</text></g>
<g id="a-C3"><circle cx="333" cy="380" r="9.5" class="c"/><circle cx="333" cy="380" r="9.5" class="s"/><text x="356" y="400" class="tc">C3</text></g>
<g id="a-E8"><circle cx="63" cy="400" r="10" class="e"/><circle cx="63" cy="400" r="10" class="s"/><text x="41" y="397" class="te">E8</text></g>
<g id="a-E7"><circle cx="105" cy="400" r="9" class="e"/><circle cx="105" cy="400" r="9" class="s"/><text x="90" y="394" class="te">E7</text></g>
<g id="a-E1"><circle cx="129" cy="433" r="10" class="e"/><circle cx="129" cy="433" r="10" class="s"/><text x="138" y="419" class="te">E1</text></g>
<g id="a-E2"><circle cx="47" cy="441" r="10" class="e"/><circle cx="47" cy="441" r="10" class="s"/><text x="24" y="428" class="te">E2</text></g>
<g id="a-E5"><circle cx="87" cy="435" r="9" class="e"/><circle cx="87" cy="435" r="9" class="s"/><text x="91" y="463" class="te">E5</text></g>
<g id="a-C4"><circle cx="191" cy="413" r="9.5" class="c"/><circle cx="191" cy="413" r="9.5" class="s"/><text x="202" y="442" class="tc">C4</text></g>
<g id="a-C7"><circle cx="231" cy="418" r="9.5" class="c"/><circle cx="231" cy="418" r="9.5" class="s"/><text x="242" y="448" class="tc">C7</text></g>
<g id="a-C6"><circle cx="273" cy="415" r="9.5" class="c"/><circle cx="273" cy="415" r="9.5" class="s"/><text x="283" y="444" class="tc">C6</text></g>
<g id="a-C9"><circle cx="312" cy="413" r="9.5" class="c"/><circle cx="312" cy="413" r="9.5" class="s"/><text x="330" y="434" class="tc">C9</text></g>
<g id="a-I3"><circle cx="147" cy="478" r="9" class="i"/><circle cx="147" cy="478" r="9" class="s"/><text x="126" y="484" class="ti">I3</text></g>
<g id="a-I5"><circle cx="184" cy="481" r="9" class="i"/><circle cx="184" cy="481" r="9" class="s"/><text x="204" y="488" class="ti">I5</text></g>
<g id="a-I2"><circle cx="162" cy="515" r="10" class="i"/><circle cx="162" cy="515" r="10" class="s"/><text x="141" y="521" class="ti">I2</text></g>
<g id="a-I4"><circle cx="202" cy="515" r="9" class="i"/><circle cx="202" cy="515" r="9" class="s"/><text x="222" y="523" class="ti">I4</text></g>
<g id="a-I1"><circle cx="184" cy="551" r="10" class="i"/><circle cx="184" cy="551" r="10" class="s"/><text x="206" y="558" class="ti">I1</text></g>
</g>
<g id="panel-b" class="fb">
<g id="b-M4"><circle cx="900" cy="43" r="12" class="m"/><circle cx="900" cy="43" r="12" class="s"/><text x="866" y="28" class="tm">M4</text></g>
<g id="b-M6"><circle cx="950" cy="46" r="12" class="m"/><circle cx="950" cy="46" r="12" class="s"/><text x="949" y="28" class="tm">M6</text></g>
<g id="b-M8"><circle cx="1001" cy="45" r="12.5" class="m"/><circle cx="1001" cy="45" r="12.5" class="s"/><text x="1035" y="31" class="tm">M8</text></g>
<g id="b-M5"><circle cx="922" cy="90" r="12.5" class="m"/><circle cx="922" cy="90" r="12.5" class="s"/><text x="881" y="101" class="tm">M5</text></g>
<g id="b-M3"><circle cx="975" cy="90" r="12" class="m"/><circle cx="975" cy="90" r="12" class="s"/><text x="1013" y="98" class="tm">M3</text></g>
<g id="b-M7"><circle cx="899" cy="138" r="12" class="m"/><circle cx="899" cy="138" r="12" class="s"/><text x="918" y="175" class="tm">M7</text></g>
<g id="b-M2"><circle cx="950" cy="135" r="12" class="m"/><circle cx="950" cy="135" r="12" class="s"/><text x="975" y="171" class="tm">M2</text></g>
<g id="b-M1"><circle cx="1000" cy="134" r="12" class="m"/><circle cx="1000" cy="134" r="12" class="s"/><text x="1039" y="156" class="tm">M1</text></g>
<g id="b-O3"><circle cx="834" cy="158" r="11.5" class="o"/><circle cx="834" cy="158" r="11.5" class="s"/><text x="805" y="150" class="to">O3</text></g>
<g id="b-O1"><circle cx="810" cy="201" r="11.5" class="o"/><circle cx="810" cy="201" r="11.5" class="s"/><text x="779" y="192" class="to">O1</text></g>
<g id="b-O2"><circle cx="859" cy="201" r="11.5" class="o"/><circle cx="859" cy="201" r="11.5" class="s"/><text x="888" y="227" class="to">O2</text></g>
<g id="b-E4"><circle cx="708" cy="250" r="17" class="e"/><circle cx="708" cy="250" r="17" class="s"/><text x="679" y="232" class="te">E4</text></g>
<g id="b-E1"><circle cx="633" cy="276" r="13" class="e"/><circle cx="633" cy="276" r="13" class="s"/><text x="605" y="262" class="te">E1</text></g>
<g id="b-E6"><circle cx="789" cy="280" r="15" class="e"/><circle cx="789" cy="280" r="15" class="s"/><text x="782" y="259" class="te">E6</text></g>
<g id="b-C7"><circle cx="916" cy="277" r="13" class="c"/><circle cx="916" cy="277" r="13" class="s"/><text x="935" y="257" class="tc">C7</text></g>
<g id="b-C5"><circle cx="971" cy="283" r="12" class="c"/><circle cx="971" cy="283" r="12" class="s"/><text x="997" y="265" class="tc">C5</text></g>
<g id="b-C9"><circle cx="1028" cy="283" r="13" class="c"/><circle cx="1028" cy="283" r="13" class="s"/><text x="1053" y="265" class="tc">C9</text></g>
<g id="b-C4"><circle cx="863" cy="291" r="12" class="c"/><circle cx="863" cy="291" r="12" class="s"/><text x="843" y="274" class="tc">C4</text></g>
<g id="b-E8"><circle cx="676" cy="321" r="13" class="e"/><circle cx="676" cy="321" r="13" class="s"/><text x="639" y="331" class="te">E8</text></g>
<g id="b-E7"><circle cx="736" cy="321" r="13" class="e"/><circle cx="736" cy="321" r="13" class="s"/><text x="714" y="304" class="te">E7</text></g>
<g id="b-C2"><circle cx="940" cy="330" r="13" class="c"/><circle cx="940" cy="330" r="13" class="s"/><text x="911" y="324" class="tc">C2</text></g>
<g id="b-CA"><circle cx="996" cy="330" r="12.5" class="c"/><circle cx="996" cy="330" r="12.5" class="s"/><text x="1024" y="321" class="tc">CA</text></g>
<g id="b-C3"><circle cx="1055" cy="333" r="12.5" class="c"/><circle cx="1055" cy="333" r="12.5" class="s"/><text x="1084" y="359" class="tc">C3</text></g>
<g id="b-C1"><circle cx="883" cy="341" r="12.5" class="c"/><circle cx="883" cy="341" r="12.5" class="s"/><text x="857" y="376" class="tc">C1</text></g>
<g id="b-E2"><circle cx="651" cy="377" r="13" class="e"/><circle cx="651" cy="377" r="13" class="s"/><text x="617" y="404" class="te">E2</text></g>
<g id="b-E5"><circle cx="707" cy="370" r="12" class="e"/><circle cx="707" cy="370" r="12" class="s"/><text x="704" y="406" class="te">E5</text></g>
<g id="b-E3"><circle cx="768" cy="377" r="14" class="e"/><circle cx="768" cy="377" r="14" class="s"/><text x="791" y="359" class="te">E3</text></g>
<g id="b-CB"><circle cx="919" cy="383" r="12.5" class="c"/><circle cx="919" cy="383" r="12.5" class="s"/><text x="936" y="418" class="tc">CB</text></g>
<g id="b-C6"><circle cx="971" cy="377" r="12.5" class="c"/><circle cx="971" cy="377" r="12.5" class="s"/><text x="990" y="408" class="tc">C6</text></g>
<g id="b-C8"><circle cx="1023" cy="376" r="12.5" class="c"/><circle cx="1023" cy="376" r="12.5" class="s"/><text x="1056" y="400" class="tc">C8</text></g>
<g id="b-I3"><circle cx="807" cy="427" r="12" class="i"/><circle cx="807" cy="427" r="12" class="s"/><text x="779" y="436" class="ti">I3</text></g>
<g id="b-I5"><circle cx="857" cy="437" r="12" class="i"/><circle cx="857" cy="437" r="12" class="s"/><text x="885" y="446" class="ti">I5</text></g>
<g id="b-I2"><circle cx="822" cy="483" r="14" class="i"/><circle cx="822" cy="483" r="14" class="s"/><text x="793" y="491" class="ti">I2</text></g>
<g id="b-I4"><circle cx="880" cy="483" r="12" class="i"/><circle cx="880" cy="483" r="12" class="s"/><text x="907" y="491" class="ti">I4</text></g>
<g id="b-I1"><circle cx="857" cy="534" r="13" class="i"/><circle cx="857" cy="534" r="13" class="s"/><text x="887" y="541" class="ti">I1</text></g>
</g>
<g id="panel-c" class="fc">
<g id="c-M4"><circle cx="442" cy="757" r="13" class="m"/><circle cx="442" cy="757" r="13" class="s"/><text x="406" y="751" class="tm">M4</text></g>
<g id="c-M6"><circle cx="498" cy="766" r="13" class="m"/><circle cx="498" cy="766" r="13" class="s"/><text x="498" y="749" class="tm">M6</text></g>
<g id="c-M8"><circle cx="563" cy="757" r="15" class="m"/><circle cx="563" cy="757" r="15" class="s"/><text x="597" y="743" class="tm">M8</text></g>
<g id="c-M5"><circle cx="459" cy="820" r="15" class="m"/><circle cx="459" cy="820" r="15" class="s"/><text x="417" y="830" class="tm">M5</text></g>
<g id="c-M3"><circle cx="531" cy="820" r="14" class="m"/><circle cx="531" cy="820" r="14" class="s"/><text x="570" y="830" class="tm">M3</text></g>
<g id="c-M7"><circle cx="440" cy="883" r="13" class="m"/><circle cx="440" cy="883" r="13" class="s"/><text x="403" y="918" class="tm">M7</text></g>
<g id="c-M2"><circle cx="498" cy="875" r="13" class="m"/><circle cx="498" cy="875" r="13" class="s"/><text x="499" y="913" class="tm">M2</text></g>
<g id="c-M1"><circle cx="559" cy="878" r="13" class="m"/><circle cx="559" cy="878" r="13" class="s"/><text x="597" y="903" class="tm">M1</text></g>
<g id="c-O3"><circle cx="626" cy="928" r="14" class="o"/><circle cx="626" cy="928" r="14" class="s"/><text x="666" y="938" class="to">O3</text></g>
<g id="c-O1"><circle cx="599" cy="983" r="12" class="o"/><circle cx="599" cy="983" r="12" class="s"/><text x="566" y="978" class="to">O1</text></g>
<g id="c-O2"><circle cx="652" cy="983" r="12" class="o"/><circle cx="652" cy="983" r="12" class="s"/><text x="684" y="980" class="to">O2</text></g>
<g id="c-E3"><circle cx="316" cy="1068" r="19" class="e"/><circle cx="316" cy="1068" r="19" class="s"/><text x="357" y="1090" class="te">E3</text></g>
<g id="c-E4"><circle cx="438" cy="1045" r="23" class="e"/><circle cx="438" cy="1045" r="23" class="s"/><text x="438" y="1019" class="te">E4</text></g>
<g id="c-E6"><circle cx="556" cy="1107" r="21" class="e"/><circle cx="556" cy="1107" r="21" class="s"/><text x="563" y="1080" class="te">E6</text></g>
<g id="c-E7"><circle cx="464" cy="1148" r="14" class="e"/><circle cx="464" cy="1148" r="14" class="s"/><text x="491" y="1129" class="te">E7</text></g>
<g id="c-E8"><circle cx="379" cy="1148" r="18" class="e"/><circle cx="379" cy="1148" r="18" class="s"/><text x="338" y="1154" class="te">E8</text></g>
<g id="c-E5"><circle cx="432" cy="1206" r="13" class="e"/><circle cx="432" cy="1206" r="13" class="s"/><text x="451" y="1244" class="te">E5</text></g>
<g id="c-E1"><circle cx="509" cy="1221" r="17" class="e"/><circle cx="509" cy="1221" r="17" class="s"/><text x="531" y="1202" class="te">E1</text></g>
<g id="c-E2"><circle cx="367" cy="1238" r="16" class="e"/><circle cx="367" cy="1238" r="16" class="s"/><text x="384" y="1278" class="te">E2</text></g>
<g id="c-C7"><circle cx="703" cy="1028" r="16" class="c"/><circle cx="703" cy="1028" r="16" class="s"/><text x="734" y="1016" class="tc">C7</text></g>
<g id="c-C5"><circle cx="776" cy="1049" r="14" class="c"/><circle cx="776" cy="1049" r="14" class="s"/><text x="800" y="1034" class="tc">C5</text></g>
<g id="c-C9"><circle cx="845" cy="1044" r="14" class="c"/><circle cx="845" cy="1044" r="14" class="s"/><text x="876" y="1034" class="tc">C9</text></g>
<g id="c-C4"><circle cx="658" cy="1084" r="12.5" class="c"/><circle cx="658" cy="1084" r="12.5" class="s"/><text x="692" y="1077" class="tc">C4</text></g>
<g id="c-C2"><circle cx="729" cy="1112" r="17" class="c"/><circle cx="729" cy="1112" r="17" class="s"/><text x="763" y="1098" class="tc">C2</text></g>
<g id="c-CA"><circle cx="813" cy="1112" r="16" class="c"/><circle cx="813" cy="1112" r="16" class="s"/><text x="852" y="1103" class="tc">CA</text></g>
<g id="c-C3"><circle cx="889" cy="1128" r="15" class="c"/><circle cx="889" cy="1128" r="15" class="s"/><text x="925" y="1116" class="tc">C3</text></g>
<g id="c-C1"><circle cx="658" cy="1146" r="13" class="c"/><circle cx="658" cy="1146" r="13" class="s"/><text x="683" y="1131" class="tc">C1</text></g>
<g id="c-C6"><circle cx="776" cy="1174" r="14" class="c"/><circle cx="776" cy="1174" r="14" class="s"/><text x="800" y="1157" class="tc">C6</text></g>
<g id="c-CB"><circle cx="710" cy="1189" r="15" class="c"/><circle cx="710" cy="1189" r="15" class="s"/><text x="733" y="1173" class="tc">CB</text></g>
<g id="c-C8"><circle cx="841" cy="1178" r="14" class="c"/><circle cx="841" cy="1178" r="14" class="s"/><text x="876" y="1169" class="tc">C8</text></g>
<g id="c-I3"><circle cx="601" cy="1267" r="14" class="i"/><circle cx="601" cy="1267" r="14" class="s"/><text x="627" y="1256" class="ti">I3</text></g>
<g id="c-I5"><circle cx="660" cy="1299" r="14" class="i"/><circle cx="660" cy="1299" r="14" class="s"/><text x="686" y="1289" class="ti">I5</text></g>
<g id="c-I4"><circle cx="682" cy="1361" r="14" class="i"/><circle cx="682" cy="1361" r="14" class="s"/><text x="708" y="1349" class="ti">I4</text></g>
<g id="c-I2"><circle cx="589" cy="1361" r="21" class="i"/><circle cx="589" cy="1361" r="21" class="s"/><text x="589" y="1372" fill="#fff">I2</text></g>
<g id="c-I1"><circle cx="660" cy="1423" r="14" class="i"/><circle cx="660" cy="1423" r="14" class="s"/><text x="689" y="1433" class="ti">I1</text></g>
</g>
<g id="captions">
<text x="207" y="608" class="cap">(a)</text>
<text x="878" y="609" class="cap">(b)</text>
<text x="507" y="1473" class="cap">(c)</text>
</g>
</svg>
